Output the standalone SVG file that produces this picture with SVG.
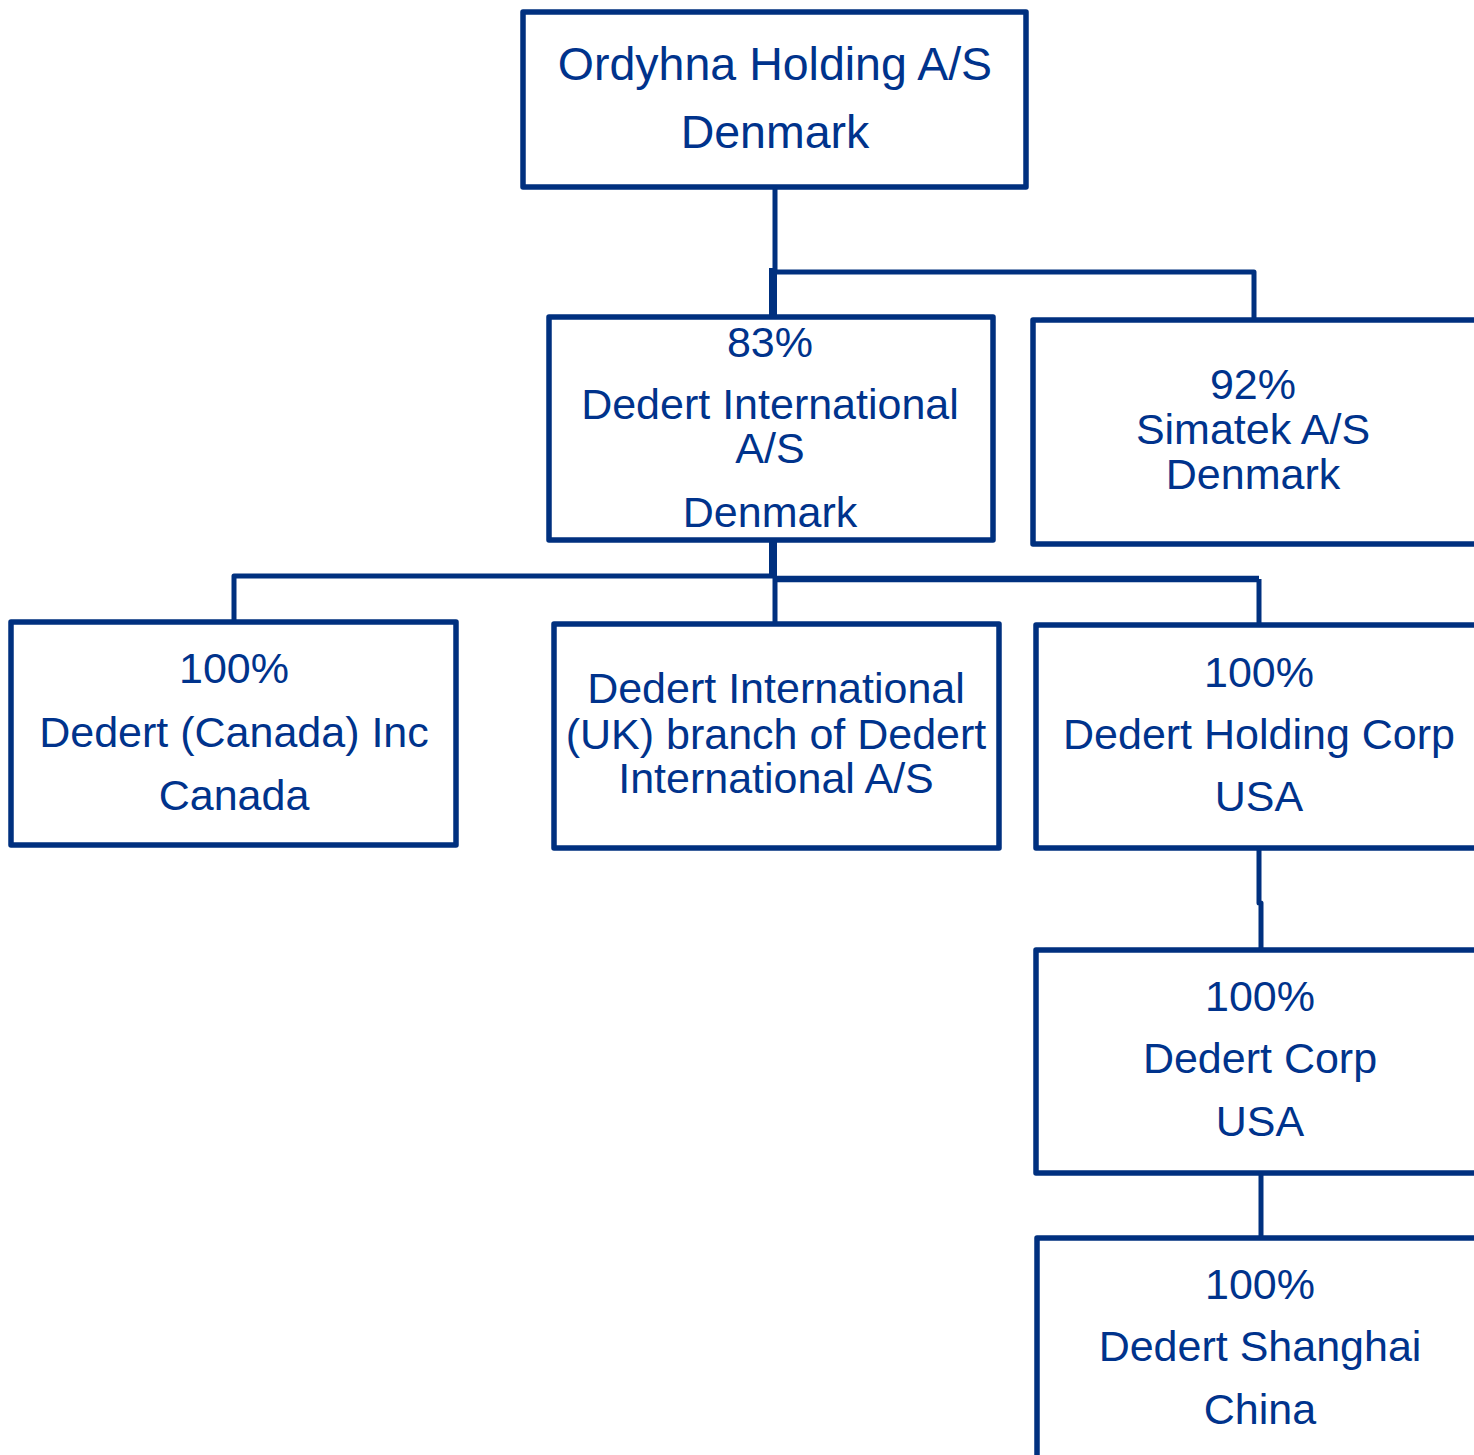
<svg xmlns="http://www.w3.org/2000/svg" width="1474" height="1455" viewBox="0 0 1474 1455">
<style>
.box{fill:#fff;stroke:#00307f;stroke-width:5.5;stroke-linejoin:round}
.ln{fill:none;stroke:#00307f;stroke-width:5;stroke-linejoin:round}
.thk{stroke-width:8}
.mid{stroke-width:6.5}
text{font-family:"Liberation Sans",Arial,sans-serif;font-size:43px;fill:#00338c;text-anchor:middle}
.big{font-size:46.5px}
</style>
<rect width="1474" height="1455" fill="#fff"/>
<g id="connectors">
<polyline class="ln" points="775,187 775,272 1254,272 1254,320"/>
<line class="ln thk" x1="773" y1="268" x2="773" y2="317"/>
<line class="ln thk" x1="773" y1="540" x2="773" y2="578"/>
<polyline class="ln" points="773,576 234,576 234,622"/>
<line class="ln mid" x1="773" y1="579" x2="1259" y2="579"/>
<line class="ln" x1="1259" y1="579" x2="1259" y2="625"/>
<line class="ln" x1="775" y1="578" x2="775" y2="624"/>
<polyline class="ln" points="1259,848 1259,903 1261,903 1261,950"/>
<line class="ln" x1="1261" y1="1173" x2="1261" y2="1238"/>
</g>
<g id="n1"><rect class="box" x="523" y="12" width="503" height="175"/>
<text class="big" x="775" y="80">Ordyhna Holding A/S</text>
<text class="big" x="775" y="148">Denmark</text></g>
<g id="n2"><rect class="box" x="549" y="317" width="444" height="223"/>
<text x="770" y="357">83%</text>
<text x="770" y="419">Dedert International</text>
<text x="770" y="463">A/S</text>
<text x="770" y="527">Denmark</text></g>
<g id="n3"><rect class="box" x="1033" y="320" width="460" height="224"/>
<text x="1253" y="399">92%</text>
<text x="1253" y="444">Simatek A/S</text>
<text x="1253" y="489">Denmark</text></g>
<g id="n4"><rect class="box" x="11" y="622" width="445" height="223"/>
<text x="234" y="683">100%</text>
<text x="234" y="747">Dedert (Canada) Inc</text>
<text x="234" y="810">Canada</text></g>
<g id="n5"><rect class="box" x="554" y="624" width="445" height="224"/>
<text x="776" y="703">Dedert International</text>
<text x="776" y="749">(UK) branch of Dedert</text>
<text x="776" y="793">International A/S</text></g>
<g id="n6"><rect class="box" x="1036" y="625" width="460" height="223"/>
<text x="1259" y="687">100%</text>
<text x="1259" y="749">Dedert Holding Corp</text>
<text x="1259" y="811">USA</text></g>
<g id="n7"><rect class="box" x="1036" y="950" width="460" height="223"/>
<text x="1260" y="1011">100%</text>
<text x="1260" y="1073">Dedert Corp</text>
<text x="1260" y="1136">USA</text></g>
<g id="n8"><rect class="box" x="1037" y="1238" width="460" height="240"/>
<text x="1260" y="1299">100%</text>
<text x="1260" y="1361">Dedert Shanghai</text>
<text x="1260" y="1424">China</text></g>
</svg>
